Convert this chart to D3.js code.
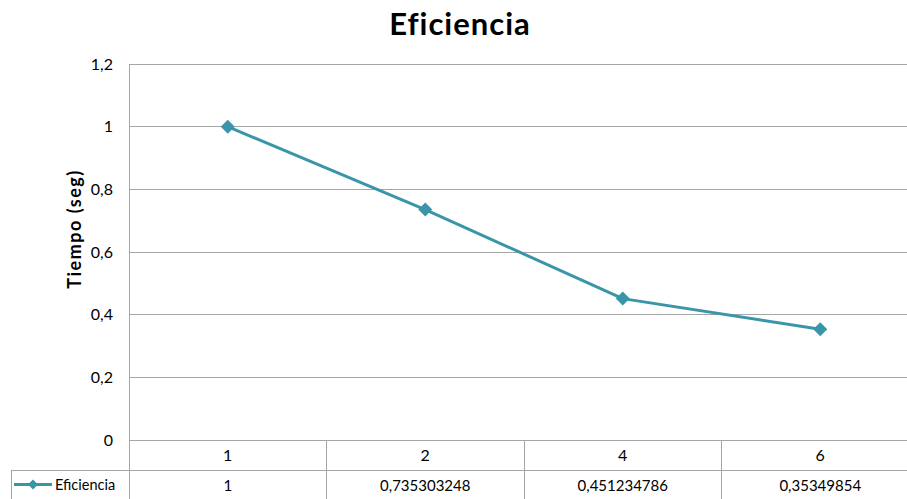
<!DOCTYPE html>
<html><head><meta charset="utf-8">
<script src="https://cdn.jsdelivr.net/npm/d3@7"></script>
<style>body{margin:0;background:#fff}svg{display:block}text{font-family:Lato,"Open Sans",sans-serif}</style>
</head><body>
<svg id="c" width="907" height="499"></svg>
<script>
const categories = ["1","2","4","6"];
const values = [1, 0.735303248, 0.451234786, 0.35349854];
const valueLabels = ["1","0,735303248","0,451234786","0,35349854"];
const yTicks = [0,0.2,0.4,0.6,0.8,1,1.2];
const seriesName = "Eficiencia";
const title = "Eficiencia";
const yTitle = "Tiempo (seg)";

const svg = d3.select("#c");
const L=129, R=919, T=64, B=440, row1=470, row2=499, legL=11;
const color="#3b95a9", grid="#a6a6a6";
const x = d3.scaleBand().domain(categories).range([L,R]);
const y = d3.scaleLinear().domain([0,1.2]).range([B,T]);
const fmt = d => String(+d.toFixed(1)).replace(".",",");
const diamond = r => `M0,${-r}L${r},0L0,${r}L${-r},0Z`;

// gridlines
svg.append("g").selectAll("line").data(yTicks).join("line")
  .attr("x1",L).attr("x2",R).attr("y1",d=>y(d)).attr("y2",d=>y(d))
  .attr("stroke",grid).attr("stroke-width",1).attr("shape-rendering","crispEdges");
// y axis labels
const ya = svg.append("g").attr("transform",`translate(${L},0)`)
  .call(d3.axisLeft(y).tickValues(yTicks).tickFormat(fmt).tickSize(0).tickPadding(16));
ya.select(".domain").remove();
ya.selectAll("text").attr("font-size",16).attr("fill","#000").attr("font-family","Lato,sans-serif");

// table
const tg = svg.append("g").attr("stroke",grid).attr("shape-rendering","crispEdges");
tg.append("line").attr("x1",L).attr("x2",L).attr("y1",T).attr("y2",row2);
tg.append("line").attr("x1",legL).attr("x2",R).attr("y1",row1).attr("y2",row1);
tg.append("line").attr("x1",legL).attr("x2",legL).attr("y1",row1).attr("y2",row2);
tg.selectAll(".v").data(categories.slice(1)).join("line")
  .attr("x1",d=>x(d)).attr("x2",d=>x(d)).attr("y1",B).attr("y2",row2);

svg.append("g").selectAll("text").data(categories).join("text")
  .attr("x",d=>x(d)+x.bandwidth()/2).attr("y",(B+row1)/2+6)
  .attr("text-anchor","middle").attr("font-size",16).text(d=>d);
svg.append("g").selectAll("text").data(valueLabels).join("text")
  .attr("x",(d,i)=>x(categories[i])+x.bandwidth()/2).attr("y",(row1+row2)/2+6)
  .attr("text-anchor","middle").attr("font-size",15).text(d=>d);

// legend in table
const ly=(row1+row2)/2;
svg.append("line").attr("x1",14).attr("x2",52).attr("y1",ly).attr("y2",ly).attr("stroke",color).attr("stroke-width",3);
svg.append("path").attr("d",diamond(5)).attr("transform",`translate(33,${ly})`).attr("fill",color);
svg.append("text").attr("x",55).attr("y",ly+5).attr("font-size",14.5).text(seriesName);

// line
const line = d3.line().x((d,i)=>x(categories[i])+x.bandwidth()/2).y(d=>y(d));
svg.append("path").datum(values).attr("d",line).attr("fill","none").attr("stroke",color).attr("stroke-width",3).attr("stroke-linejoin","round");
svg.append("g").selectAll("path").data(values).join("path")
  .attr("d",diamond(7))
  .attr("transform",(d,i)=>`translate(${x(categories[i])+x.bandwidth()/2},${y(d)})`)
  .attr("fill",color);

// titles
svg.append("text").attr("x",460).attr("y",35).attr("text-anchor","middle")
  .attr("font-size",31).attr("font-weight","bold").attr("letter-spacing",1).text(title);
svg.append("text").attr("transform","translate(81,229) rotate(-90)").attr("text-anchor","middle")
  .attr("font-size",18).attr("font-weight","bold").attr("letter-spacing",1.5).text(yTitle);
</script>
</body></html>
